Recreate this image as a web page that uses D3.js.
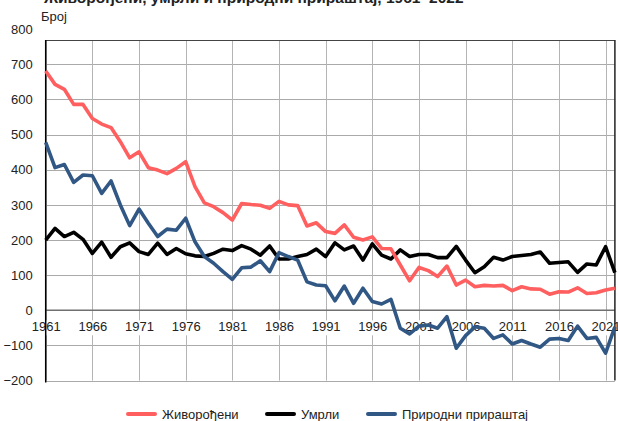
<!DOCTYPE html>
<html>
<head>
<meta charset="utf-8">
<script src="https://cdn.jsdelivr.net/npm/d3@7"></script>
<style>
  html, body { margin: 0; padding: 0; background: #fff; }
  svg { display: block; font-family: "Liberation Sans", Arial, sans-serif; }
</style>
</head>
<body>
<svg id="chart" width="618" height="421"></svg>
<script>
const years = d3.range(1961, 2023);
const births = [681,643,629,586,586,546,530,520,480,434,451,406,399,389,404,423,352,306,295,278,257,304,301,299,290,310,300,298,240,249,224,219,243,208,200,209,176,175,129,84,122,113,96,126,72,86,67,71,69,71,56,67,61,60,46,53,52,64,48,50,58,63];
const deaths = [200,233,210,222,202,162,194,151,181,192,167,159,191,159,176,161,155,153,162,174,170,184,174,157,183,146,146,153,159,174,153,192,172,183,143,189,157,146,172,153,159,159,150,150,182,143,107,124,151,143,153,156,159,166,134,136,138,108,132,129,181,107];
const natural = [478,406,415,364,385,383,333,368,300,241,288,248,210,231,228,262,195,153,134,110,88,121,123,141,110,164,153,143,81,72,70,27,69,20,63,25,18,31,-51,-67,-45,-42,-51,-18,-108,-72,-47,-51,-80,-70,-96,-86,-96,-105,-82,-80,-86,-45,-80,-77,-122,-47];
const seriesNames = ["Живорођени", "Умрли", "Природни прираштај"];
const yTicks = [-200,-100,0,100,200,300,400,500,600,700,800];
const xTicks = [1961,1966,1971,1976,1981,1986,1991,1996,2001,2006,2011,2016,2021];
const titleText = "Живорођени, умрли и природни прираштај, 1961–2022";
const yLabel = "Број";

const colors = ["#ff5f5f", "#000000", "#315785"];
const svg = d3.select("#chart");
const plotTop = 40;
const x = d3.scaleLinear().domain([1961, 2022]).range([45.7, 614.9]);
const y = d3.scaleLinear().domain([-200, 800]).range([380.6, 29.2]);
const plotBottom = y(-200);

svg.append("rect").attr("width", 618).attr("height", 421).attr("fill", "#fff");

// partially visible title (cut at top)
svg.append("text").attr("x", 44).attr("y", 2.5)
  .attr("font-weight", "bold").attr("font-size", 15.5).attr("fill", "#222")
  .text(titleText);

svg.append("text").attr("x", 41).attr("y", 21)
  .attr("font-size", 13).attr("fill", "#222").text(yLabel);

// grid
const grid = svg.append("g");
grid.selectAll("line.h").data(yTicks.filter(d => y(d) >= plotTop - 0.5 && d !== 0))
  .join("line").attr("class", "h")
  .attr("x1", x(1961)).attr("x2", x(2022))
  .attr("y1", d => Math.round(y(d)) + 0.5).attr("y2", d => Math.round(y(d)) + 0.5)
  .attr("stroke", "#aaaaaa").attr("stroke-width", 1);
grid.selectAll("line.v").data(xTicks)
  .join("line").attr("class", "v")
  .attr("x1", d => Math.round(x(d)) + 0.5).attr("x2", d => Math.round(x(d)) + 0.5)
  .attr("y1", plotTop).attr("y2", plotBottom)
  .attr("stroke", "#b4b4b4").attr("stroke-width", 1);

// top border
svg.append("line").attr("x1", x(1961)).attr("x2", x(2022))
  .attr("y1", plotTop + 0.5).attr("y2", plotTop + 0.5)
  .attr("stroke", "#444").attr("stroke-width", 1);

// zero line
svg.append("line").attr("x1", x(1961)).attr("x2", x(2022))
  .attr("y1", y(0)).attr("y2", y(0))
  .attr("stroke", "#707070").attr("stroke-width", 1.5);

// x axis labels with white background
const xAxis = d3.axisBottom(x).tickValues(xTicks).tickFormat(d3.format("d")).tickSize(0).tickPadding(11);
const xg = svg.append("g").attr("transform", `translate(0,${y(0)})`).call(xAxis);
xg.select(".domain").remove();
xg.selectAll(".tick text").attr("font-size", 13).attr("fill", "#222")
  .attr("font-family", "Liberation Sans, Arial, sans-serif");
xg.selectAll(".tick").insert("rect", "text")
  .attr("x", -16).attr("y", 10).attr("width", 32).attr("height", 15).attr("fill", "#fff");

// y axis labels
const yAxis = d3.axisLeft(y).tickValues(yTicks).tickSize(0).tickPadding(13);
const yg = svg.append("g").attr("transform", `translate(${x(1961)},0)`).call(yAxis);
yg.select(".domain").remove();
yg.selectAll(".tick text").attr("font-size", 13).attr("fill", "#222")
  .attr("font-family", "Liberation Sans, Arial, sans-serif");

// left axis and right border
svg.append("line").attr("x1", x(1961)).attr("x2", x(1961))
  .attr("y1", plotTop).attr("y2", plotBottom + 2)
  .attr("stroke", "#000").attr("stroke-width", 1.5);
svg.append("line").attr("x1", x(2022)).attr("x2", x(2022))
  .attr("y1", plotTop).attr("y2", plotBottom)
  .attr("stroke", "#222").attr("stroke-width", 1.5);

// lines
const line = d3.line().x((d, i) => x(years[i])).y(d => y(d));
const order = [[deaths, colors[1]], [births, colors[0]], [natural, colors[2]]];
order.forEach(([vals, c]) => {
  svg.append("path").datum(vals).attr("d", line)
    .attr("fill", "none").attr("stroke", c).attr("stroke-width", 3.6)
    .attr("stroke-linejoin", "round");
});

// legend
const legendItems = [
  { name: seriesNames[0], color: colors[0], x: 128 },
  { name: seriesNames[1], color: colors[1], x: 267 },
  { name: seriesNames[2], color: colors[2], x: 368 }
];
const lg = svg.append("g");
legendItems.forEach(it => {
  lg.append("line").attr("x1", it.x).attr("x2", it.x + 27)
    .attr("y1", 414).attr("y2", 414)
    .attr("stroke", it.color).attr("stroke-width", 4).attr("stroke-linecap", "round");
  lg.append("text").attr("x", it.x + 34).attr("y", 418.5)
    .attr("font-size", 13).attr("fill", "#222").text(it.name);
});
</script>
</body>
</html>
